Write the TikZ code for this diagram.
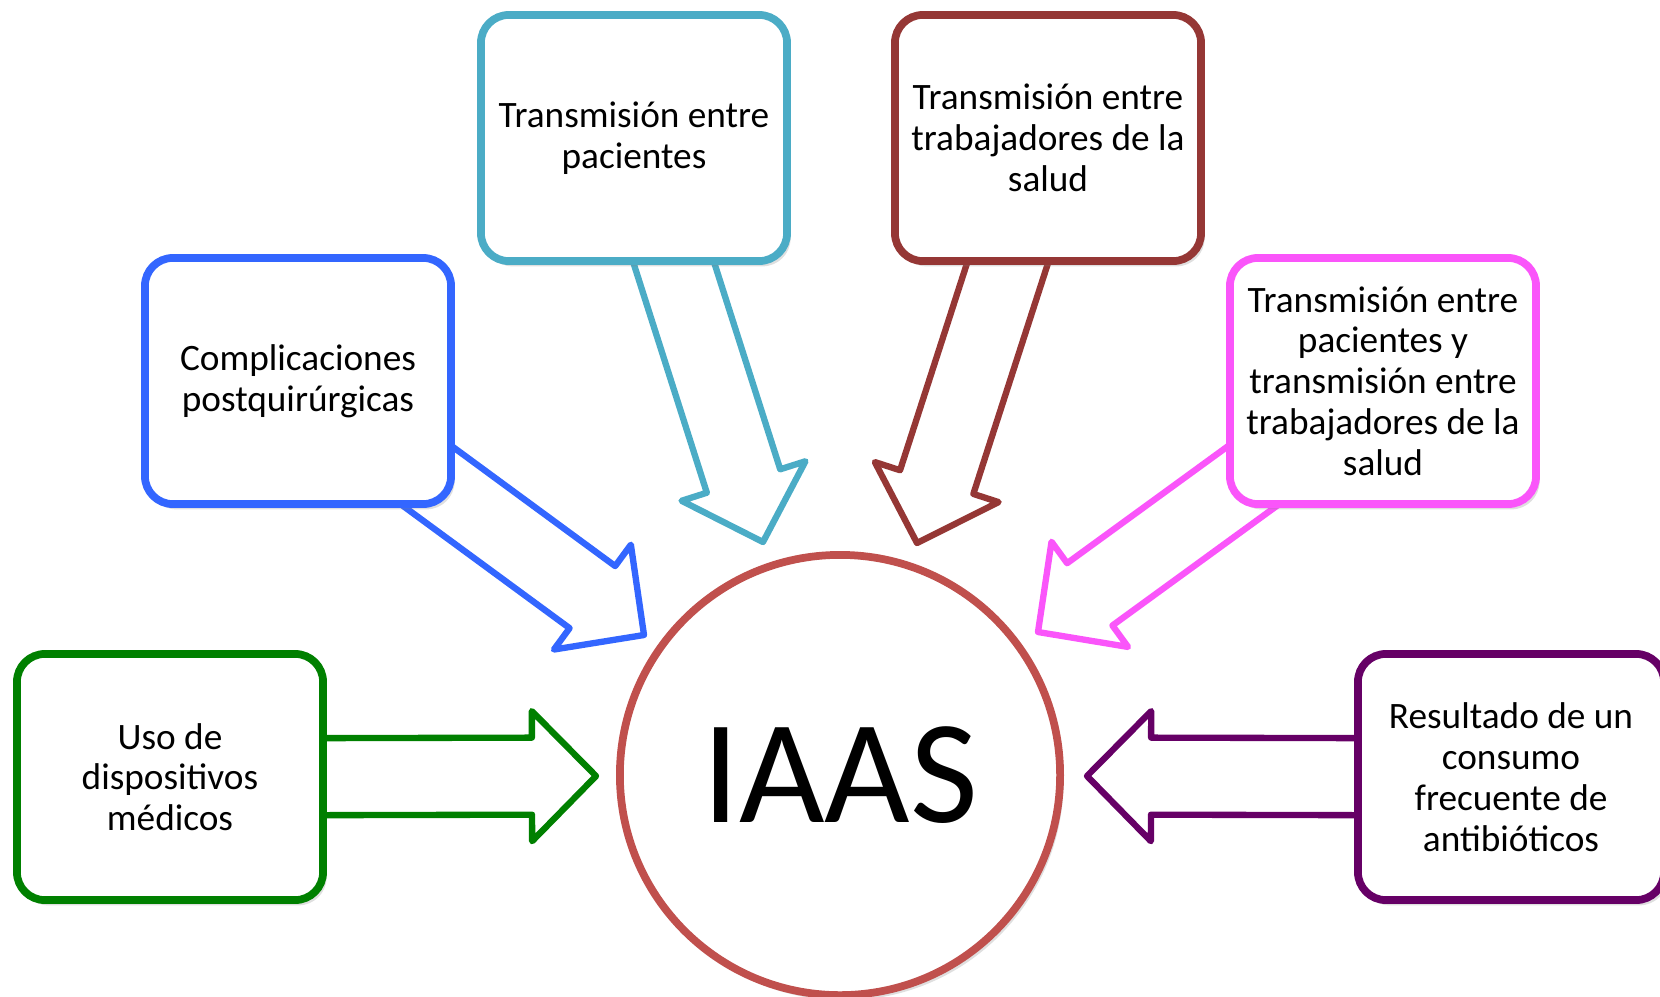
\documentclass[tikz,border=0pt]{standalone}
\usepackage{fontspec}
\setmainfont{Carlito}
\usetikzlibrary{calc,backgrounds,shadows}
\definecolor{verde}{RGB}{0,128,0}
\definecolor{azul}{RGB}{51,102,255}
\definecolor{celeste}{RGB}{75,172,198}
\definecolor{granate}{RGB}{149,55,53}
\definecolor{rosa}{RGB}{250,85,250}
\definecolor{morado}{RGB}{102,0,102}
\definecolor{rojocirc}{RGB}{192,80,77}
\newcommand{\shafthw}{0.385cm}
\newcommand{\headhw}{0.65cm}
\newcommand{\headlen}{0.64cm}
\newcommand{\fatarrow}[3]{%
  \coordinate (fab) at ($(#3)!\headlen!(#2)$);
  \draw[flecha, draw=#1] ($(#2)!\shafthw!90:(#3)$) -- ($(fab)!\shafthw!90:(#3)$) -- ($(fab)!\headhw!90:(#3)$) -- (#3) -- ($(fab)!\headhw!-90:(#3)$) -- ($(fab)!\shafthw!-90:(#3)$) -- ($(#2)!\shafthw!-90:(#3)$) -- cycle;
}
\begin{document}
\begin{tikzpicture}[x=0.01cm, y=-0.01cm, font=\fontsize{10.6}{11.6}\selectfont]
	\tikzstyle{caja} = [rectangle, draw, line width=2.2pt, fill=white, rounded corners=0.28cm, minimum width=3.06cm, minimum height=2.46cm, align=center, inner sep=0pt, drop shadow={shadow xshift=1pt, shadow yshift=-1.5pt, opacity=0.25}]
	\tikzstyle{flecha} = [line width=1.8pt, line join=round, fill=white]
	\useasboundingbox (0,0) rectangle (1660,996);
	\node[caja, draw=verde] (uso) at (170,777) {Uso de\\dispositivos\\médicos};
	\node[caja, draw=azul] (compl) at (298,381) {Complicaciones\\postquirúrgicas};
	\node[caja, draw=celeste] (pac) at (634,138) {Transmisión entre\\pacientes};
	\node[caja, draw=granate] (trab) at (1048,138) {Transmisión entre\\trabajadores de la\\salud};
	\node[caja, draw=rosa] (ambos) at (1383,381) {Transmisión entre\\pacientes y\\transmisión entre\\trabajadores de la\\salud};
	\node[caja, draw=morado] (antib) at (1511,777) {Resultado de un\\consumo\\frecuente de\\antibióticos};
	\node[circle, draw=rojocirc, line width=2.2pt, fill=white, minimum size=4.40cm, inner sep=0pt, font=\fontsize{42}{50}\selectfont, drop shadow={shadow xshift=1pt, shadow yshift=-1.5pt, opacity=0.25}] (iaas) at (840,775) {IAAS};
	\coordinate (p-uso) at (596,776);
	\coordinate (p-compl) at (644,635);
	\coordinate (p-pac) at (763,542);
	\coordinate (p-trab) at (917,543);
	\coordinate (p-ambos) at (1038,632);
	\coordinate (p-antib) at (1087,776);
	\begin{scope}[on background layer]
		\fatarrow{verde}{uso}{p-uso}
		\fatarrow{azul}{compl}{p-compl}
		\fatarrow{celeste}{pac}{p-pac}
		\fatarrow{granate}{trab}{p-trab}
		\fatarrow{rosa}{ambos}{p-ambos}
		\fatarrow{morado}{antib}{p-antib}
	\end{scope}
\end{tikzpicture}
\end{document}
